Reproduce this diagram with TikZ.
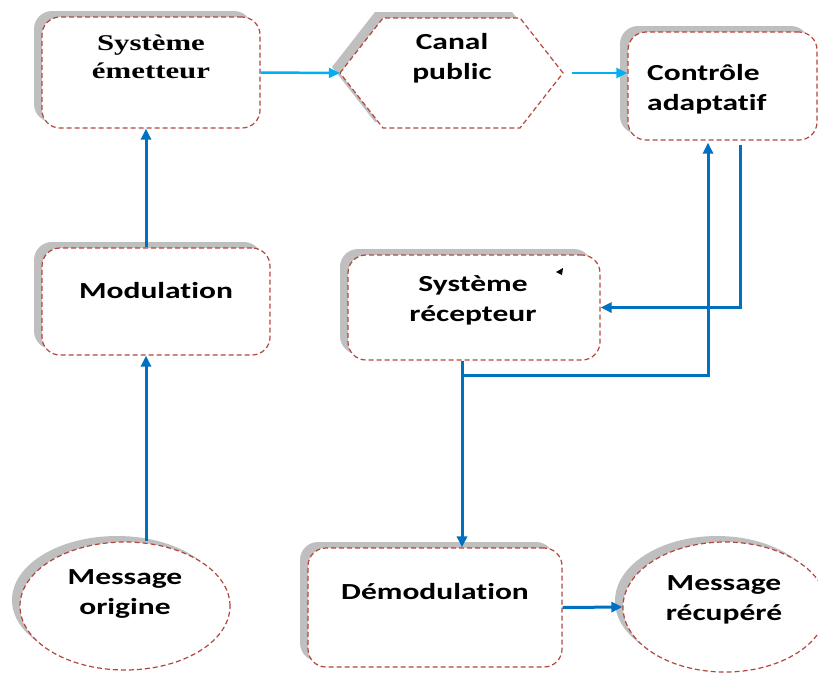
\documentclass[tikz,border=0pt]{standalone}
\usepackage{fontspec}
\newfontfamily\serifb{Liberation Serif}[FakeStretch=1.37]
\newfontfamily\calib{Carlito}[FakeStretch=1.37, Ligatures={NoCommon}]
\usetikzlibrary{shapes.geometric,shadows,arrows.meta,calc}
\definecolor{bord}{RGB}{180,70,60}
\definecolor{shgray}{RGB}{191,191,191}
\definecolor{lblue}{RGB}{0,176,240}
\definecolor{dblue}{RGB}{0,112,192}
\begin{document}
\begin{tikzpicture}[x=1pt,y=-1pt,
  shaped/.style={draw=bord, line width=1.2pt, dash pattern=on 5pt off 3pt, fill=white,
    drop shadow={shadow xshift=-8pt, shadow yshift=6pt, fill=shgray, opacity=1}},
  rbox/.style={shaped, rectangle, rounded corners=18pt, inner sep=0pt},
  oval/.style={shaped, ellipse, inner sep=0pt},
  serift/.style={font=\serifb\bfseries\fontsize{22.5}{28}\selectfont, align=center, inner sep=0pt},
  calt/.style={font=\calib\bfseries\fontsize{23}{30}\selectfont, align=center, inner sep=0pt},
  darr/.style={draw=dblue, line width=3pt, -{Triangle[length=11pt,width=10pt]}},
  larr/.style={draw=lblue, line width=2.5pt, -{Triangle[length=11pt,width=10pt]}},
  ]
\useasboundingbox (0,0) rectangle (818,673);
% coordinates for connector columns
\coordinate (cx) at (146,0);
\coordinate (c1) at (740,0);
\coordinate (c2) at (708,0);
\coordinate (j) at (462,375);

% shapes
\node[rbox, minimum width=218pt, minimum height=111pt] (emetteur) at (151,72.5) {};
\path[shaped] (340,73) -- (383,18) -- (520,18) -- (563,73) -- (520,128) -- (383,128) -- cycle;
\node[minimum width=223pt, minimum height=110pt, inner sep=0pt] (canal) at (451.5,73) {};
\node[rbox, minimum width=189pt, minimum height=108pt] (controle) at (722.5,86) {};
\node[rbox, minimum width=228pt, minimum height=107pt] (modulation) at (156,301.5) {};
\node[rbox, minimum width=252pt, minimum height=105pt] (recepteur) at (474,307.5) {};
\node[rbox, minimum width=254pt, minimum height=119pt] (demod) at (435,607.5) {};
\node[oval, minimum width=210pt, minimum height=128pt] (origine) at (125,606) {};
\node[oval, minimum width=204pt, minimum height=130pt] (recupere) at (725,607) {};

% texts
\node[serift] (emetteur-t) at (151,57) {Système\\émetteur};
\node[calt] (canal-t) at (452,58) {Canal\\public};
\node[calt, anchor=west, align=left] (controle-t) at (647,89) {Contrôle\\adaptatif};
\node[calt] (modulation-t) at (156,291) {Modulation};
\node[calt] (recepteur-t) at (473,300) {Système\\récepteur};
\node[calt] (demod-t) at (435,592) {Démodulation};
\node[calt] (origine-t) at (125,594) {Message\\origine};
\node[calt] (recupere-t) at (724,600) {Message\\récupéré};

% small mark
\fill (556,272) -- (563,268) -- (562,275) -- cycle;

% connectors
\draw[larr] (emetteur.east) -- (canal.west);
\draw[larr] ([xshift=9pt]canal.east) -- (canal.east -| controle.west);
\draw[darr] (modulation.north -| cx) -- (emetteur.south -| cx);
\draw[darr] (origine.north -| cx) -- (modulation.south -| cx);
\draw[darr] ([yshift=-4pt]controle.south -| c1) |- (recepteur.east);
\draw[darr] (recepteur.south -| j) -- (j) -| ([yshift=-2pt]controle.south -| c2);
\draw[darr] (j) -- (demod.north -| j);
\draw[darr] (demod.east) -- (recupere.west);
\end{tikzpicture}
\end{document}
